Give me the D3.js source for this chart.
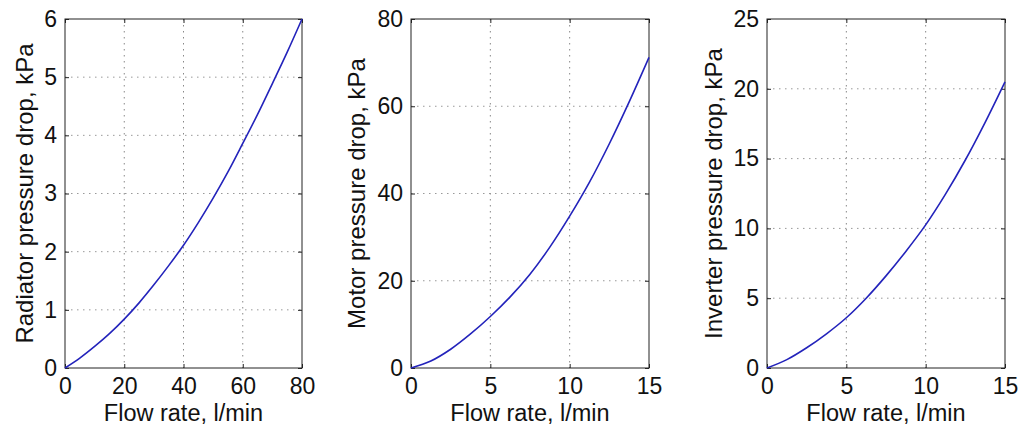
<!DOCTYPE html>
<html>
<head>
<meta charset="utf-8">
<script src="https://cdn.jsdelivr.net/npm/d3@7"></script>
<style>
  body { margin: 0; background: #fff; }
  svg text { font-family: "Liberation Sans", Arial, sans-serif; fill: #111; }
</style>
</head>
<body>
<div id="plot"></div>
<script>
// radiator
const radFlow = [0, 5, 10, 15, 20, 25, 30, 35, 40, 45, 50, 55, 60, 65, 70, 75, 80];
const radDrop = [0, 0.17, 0.37, 0.59, 0.84, 1.12, 1.43, 1.76, 2.11, 2.5, 2.92, 3.37, 3.86, 4.36, 4.89, 5.43, 6.0];
const radXTicks = [0, 20, 40, 60, 80];
const radYTicks = [0, 1, 2, 3, 4, 5, 6];

// motor
const motorFlow = [0, 1.25, 2.5, 3.75, 5, 6.25, 7.5, 8.75, 10, 11.25, 12.5, 13.75, 15];
const motorDrop = [0, 1.6, 4.3, 7.8, 11.8, 16.3, 21.5, 27.7, 34.8, 42.6, 51.4, 61, 71.2];
const motorXTicks = [0, 5, 10, 15];
const motorYTicks = [0, 20, 40, 60, 80];

// inverter
const invFlow = [0, 1.25, 2.5, 3.75, 5, 6.25, 7.5, 8.75, 10, 11.25, 12.5, 13.75, 15];
const invDrop = [0, 0.6, 1.45, 2.45, 3.6, 5.0, 6.6, 8.35, 10.25, 12.45, 14.9, 17.6, 20.5];
const invXTicks = [0, 5, 10, 15];
const invYTicks = [0, 5, 10, 15, 20, 25];

const xLabel = 'Flow rate, l/min';

const panels = [
  { left: 65, right: 302, labelX: 33, ylab: 'Radiator pressure drop, kPa',
    flow: radFlow, drop: radDrop, xt: radXTicks, yt: radYTicks },
  { left: 411, right: 649, labelX: 365, ylab: 'Motor pressure drop, kPa',
    flow: motorFlow, drop: motorDrop, xt: motorXTicks, yt: motorYTicks },
  { left: 767, right: 1005, labelX: 722, ylab: 'Inverter pressure drop, kPa',
    flow: invFlow, drop: invDrop, xt: invXTicks, yt: invYTicks }
];

const W = 1019, H = 428, plotTop = 19, plotBottom = 368;

const svg = d3.select('#plot').append('svg')
    .attr('width', W)
    .attr('height', H);

panels.forEach(p => {
    const x = d3.scaleLinear()
        .domain(d3.extent(p.xt))
        .range([p.left, p.right]);
    const y = d3.scaleLinear()
        .domain(d3.extent(p.yt))
        .range([plotBottom, plotTop]);

    const g = svg.append('g');

    // dotted grid
    g.append('g').selectAll('line')
        .data(p.xt.slice(1, -1))
        .join('line')
        .attr('x1', d => x(d)).attr('x2', d => x(d))
        .attr('y1', plotTop).attr('y2', plotBottom)
        .attr('stroke', '#888').attr('stroke-width', 1)
        .attr('stroke-dasharray', '1.5,4.5');
    g.append('g').selectAll('line')
        .data(p.yt.slice(1, -1))
        .join('line')
        .attr('x1', p.left).attr('x2', p.right)
        .attr('y1', d => y(d)).attr('y2', d => y(d))
        .attr('stroke', '#999').attr('stroke-width', 1)
        .attr('stroke-dasharray', '1.5,4.5');

    // axes with inward ticks
    g.append('g')
        .attr('transform', `translate(0,${plotBottom})`)
        .call(d3.axisBottom(x).tickValues(p.xt).tickSize(-4).tickPadding(10).tickFormat(d3.format('d')))
        .call(a => a.select('.domain').remove())
        .selectAll('text').attr('font-size', 23).attr('dy', '0.71em');
    g.append('g')
        .attr('transform', `translate(0,${plotTop})`)
        .call(d3.axisTop(x).tickValues(p.xt).tickSize(-4).tickFormat(''))
        .call(a => a.select('.domain').remove());
    g.append('g')
        .attr('transform', `translate(${p.left},0)`)
        .call(d3.axisLeft(y).tickValues(p.yt).tickSize(-4).tickPadding(8).tickFormat(d3.format('d')))
        .call(a => a.select('.domain').remove())
        .selectAll('text').attr('font-size', 23);
    g.append('g')
        .attr('transform', `translate(${p.right},0)`)
        .call(d3.axisRight(y).tickValues(p.yt).tickSize(-4).tickFormat(''))
        .call(a => a.select('.domain').remove());
    g.selectAll('.tick line').attr('stroke', '#222');

    // box
    g.append('rect')
        .attr('x', p.left).attr('y', plotTop)
        .attr('width', p.right - p.left).attr('height', plotBottom - plotTop)
        .attr('fill', 'none').attr('stroke', '#222').attr('stroke-width', 1);

    // curve
    const line = d3.line()
        .x((d, i) => x(p.flow[i]))
        .y(d => y(d))
        .curve(d3.curveCatmullRom);
    g.append('path')
        .attr('fill', 'none')
        .attr('stroke', '#2323bb')
        .attr('stroke-width', 1.6)
        .attr('d', line(p.drop));

    // labels
    g.append('text')
        .attr('x', (p.left + p.right) / 2)
        .attr('y', 421)
        .attr('text-anchor', 'middle')
        .attr('font-size', 23.5)
        .text(xLabel);
    g.append('text')
        .attr('transform', `translate(${p.labelX},${(plotTop + plotBottom) / 2}) rotate(-90)`)
        .attr('text-anchor', 'middle')
        .attr('font-size', 24)
        .text(p.ylab);
});
</script>
</body>
</html>
